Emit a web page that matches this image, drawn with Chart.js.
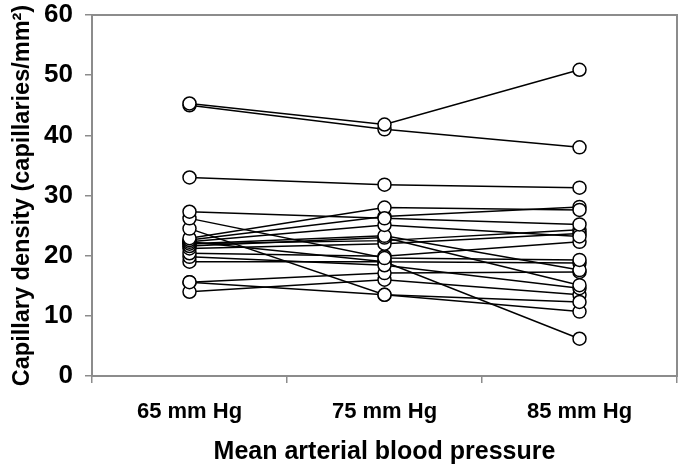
<!DOCTYPE html>
<html>
<head>
<meta charset="utf-8">
<script src="https://cdn.jsdelivr.net/npm/chart.js@4"></script>
<style>
  html, body { margin: 0; padding: 0; background: #ffffff; }
  #wrap { width: 685px; height: 471px; }
</style>
</head>
<body>
<div id="wrap"><canvas id="c" width="685" height="471"></canvas></div>
<script>
// Categories (x axis)
const categories = ['65 mm Hg', '75 mm Hg', '85 mm Hg'];
// Capillary density per subject at each pressure (same subject index across arrays)
const p65 = [45.3, 45.0, 33.0, 27.3, 26.2, 24.5, 22.9, 22.6, 22.3, 22.0, 21.6, 21.2, 20.4, 19.8, 19.0, 22.3, 15.6, 14.0, 15.6, 22.0];
const p75 = [41.8, 41.0, 31.8, 26.2, 19.6, 13.5, 28.0, 26.5, 25.1, 23.3, 23.0, 22.0, 19.9, 18.4, 19.0, 19.0, 17.1, 16.0, 13.5, 22.5];
const p85 = [50.9, 38.0, 31.3, 25.2, 19.3, 12.3, 27.6, 28.1, 23.2, 17.6, 15.1, 23.7, 22.3, 14.6, 6.2, 18.8, 17.3, 13.5, 10.7, 24.3];
// Y axis ticks
const yTicks = [0, 10, 20, 30, 40, 50, 60];
const yTitle = 'Capillary density (capillaries/mm\u00B2)';
const xTitle = 'Mean arterial blood pressure';

const datasets = p65.map((v, i) => ({
  label: 'Subject ' + (i + 1),
  data: [p65[i], p75[i], p85[i]],
  borderColor: '#000000',
  borderWidth: 1.5,
  pointBackgroundColor: '#ffffff',
  pointBorderColor: '#000000',
  pointBorderWidth: 1.5,
  pointRadius: 6.5,
  fill: false,
  tension: 0
}));

const frame = {
  id: 'frame',
  beforeDatasetsDraw(chart) {
    const a = chart.chartArea, ctx = chart.ctx;
    ctx.save();
    ctx.strokeStyle = '#8c8c8c';
    ctx.lineWidth = 2;
    ctx.strokeRect(a.left, a.top, a.right - a.left, a.bottom - a.top);
    ctx.restore();
  }
};

const FONT = '"Liberation Sans", Arial, sans-serif';

new Chart(document.getElementById('c'), {
  type: 'line',
  data: { labels: categories, datasets },
  plugins: [frame],
  options: {
    responsive: false,
    animation: false,
    layout: { padding: { top: 15, right: 5, left: 0, bottom: 0 } },
    plugins: { legend: { display: false }, tooltip: { enabled: false } },
    scales: {
      x: {
        offset: true,
        grid: { offset: true, drawOnChartArea: false, drawTicks: true, tickLength: 7, color: '#8c8c8c', lineWidth: 1.5 },
        border: { display: true, color: '#8c8c8c', width: 2 },
        ticks: { color: '#000', padding: 16, font: { family: FONT, size: 22, weight: 'bold' }, maxRotation: 0 },
        title: { display: true, text: xTitle, color: '#000', padding: { top: 0, bottom: 4 }, font: { family: FONT, size: 25, weight: 'bold' } },
        afterFit(scale) { scale.height = 95; scale.paddingLeft = 0; scale.paddingRight = 0; }
      },
      y: {
        min: 0, max: 60,
        afterBuildTicks(scale) { scale.ticks = yTicks.map(v => ({ value: v })); },
        grid: { drawOnChartArea: false, drawTicks: true, tickLength: 7, color: '#8c8c8c', lineWidth: 1.5 },
        border: { display: true, color: '#8c8c8c', width: 2 },
        ticks: { color: '#000', padding: 12, font: { family: FONT, size: 26, weight: 'bold' } },
        title: { display: true, text: yTitle, color: '#000', padding: { top: 8, bottom: 0 }, font: { family: FONT, size: 23.5, weight: 'bold' } },
        afterFit(scale) { scale.width = 92; scale.paddingTop = 0; scale.paddingBottom = 0; }
      }
    }
  }
});
</script>
</body>
</html>
